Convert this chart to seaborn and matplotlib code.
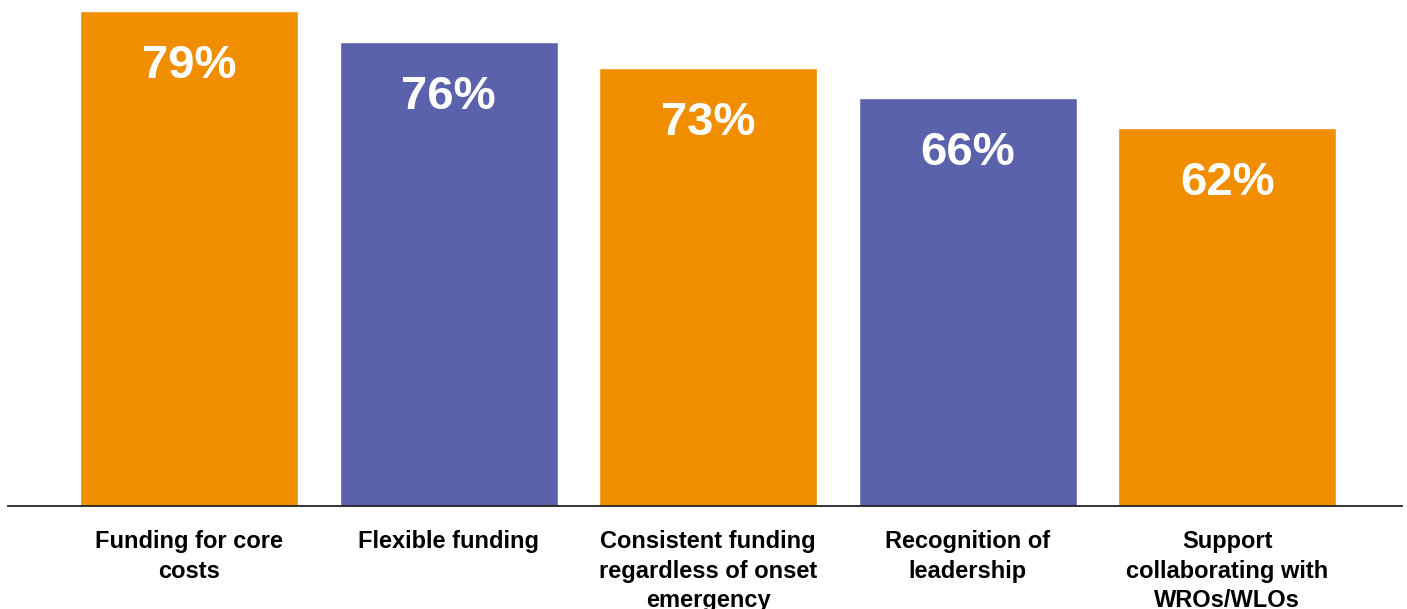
import matplotlib
matplotlib.use("Agg")
import matplotlib.pyplot as plt
import seaborn as sns
import pandas as pd

categories = ["Funding for core\ncosts", "Flexible funding",
              "Consistent funding\nregardless of onset\nemergency",
              "Recognition of\nleadership",
              "Support\ncollaborating with\nWROs/WLOs"]
value_labels = ["79%", "76%", "73%", "66%", "62%"]
# bar heights as drawn in the picture (in % units)
bar_heights = [79, 74.1, 69.9, 65.1, 60.3]
bar_colors = ["#F08E00", "#5A62AB", "#F08E00", "#5A62AB", "#F08E00"]

sns.set_theme(style="white")
plt.rcParams['font.family'] = ['Liberation Sans', 'DejaVu Sans']

df = pd.DataFrame({"cat": categories, "val": bar_heights})

fig = plt.figure(figsize=(14.07, 6.09), dpi=100)
ax = fig.add_axes([8/1407, 103/609, (1402-8)/1407, 506/609])
sns.barplot(data=df, x="cat", y="val", hue="cat", palette=bar_colors,
            width=0.84, legend=False, ax=ax, saturation=1)

ax.set_xlim(-0.6975, 4.674)
ax.set_ylim(0, 79 * 506 / 495)
for s in ["top", "right", "left"]:
    ax.spines[s].set_visible(False)
ax.spines["bottom"].set_color("#222222")
ax.spines["bottom"].set_linewidth(1.3)
ax.set_yticks([])
ax.set_xlabel("")
ax.set_ylabel("")
ax.tick_params(axis="x", length=0, pad=17.5)
ax.set_xticks(range(len(categories)))
ax.set_xticklabels(categories, fontsize=17, fontweight="bold", color="black",
                   linespacing=1.35, va="top")

for i, (h, lab) in enumerate(zip(bar_heights, value_labels)):
    ax.annotate(lab, (i, h), xytext=(0, -39.5), textcoords="offset points",
                ha="center", va="center", color="white", fontsize=34,
                fontweight="bold")

fig.savefig("out.png", dpi=100)
